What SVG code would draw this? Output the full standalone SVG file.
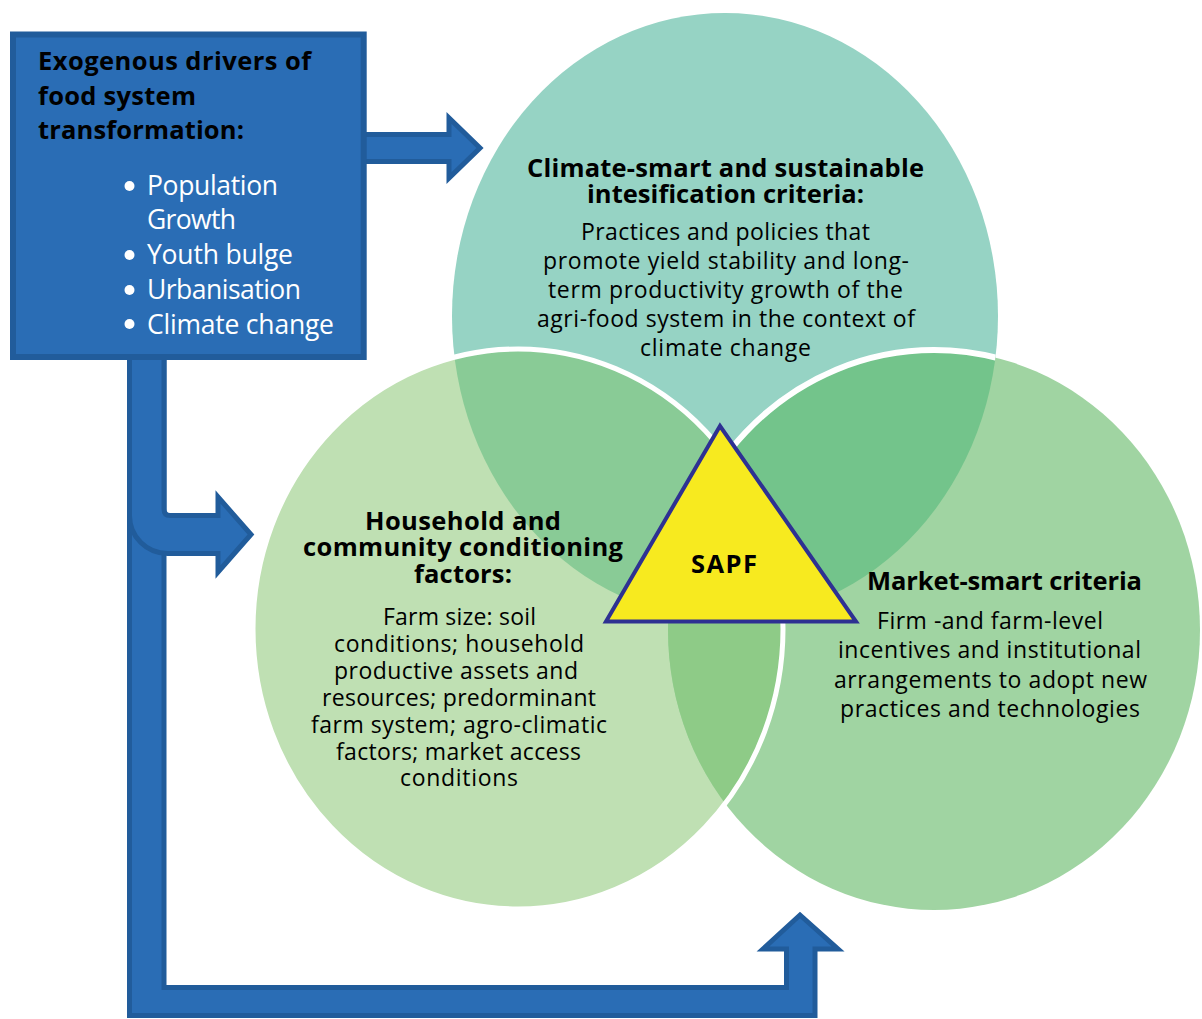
<svg xmlns="http://www.w3.org/2000/svg" width="1202" height="1019" viewBox="0 0 1202 1019">
<style>
.arrow{fill:#2a6db5;stroke:#215c9b;stroke-width:5;stroke-linejoin:miter}
.t{font-family:"Open Sans","Noto Sans",sans-serif;fill:#000}
.b{font-weight:700}
.w{fill:#ffffff}
.m{text-anchor:middle}
.h{font-size:25.5px}
.p{font-size:23px}
</style>
<defs>
<clipPath id="cTop"><ellipse cx="725" cy="316" rx="273" ry="303"/></clipPath>
<clipPath id="cLeft"><ellipse cx="518" cy="629" rx="265" ry="280"/></clipPath>
</defs>
<g id="venn">
<ellipse cx="725" cy="316" rx="273" ry="303" fill="#96d3c4"/>
<ellipse cx="518" cy="629" rx="265" ry="280" fill="#bfe0b3"/>
<ellipse cx="934" cy="630" rx="266" ry="280" fill="#a0d4a2"/>
<ellipse cx="518" cy="629" rx="265" ry="280" fill="#89cb96" clip-path="url(#cTop)"/>
<ellipse cx="934" cy="630" rx="266" ry="280" fill="#73c48b" clip-path="url(#cTop)"/>
<ellipse cx="934" cy="630" rx="266" ry="280" fill="#8ecb87" clip-path="url(#cLeft)"/>
<ellipse cx="518" cy="629" rx="265" ry="280" fill="none" stroke="#ffffff" stroke-width="5"/>
<ellipse cx="934" cy="630" rx="266" ry="280" fill="none" stroke="#ffffff" stroke-width="6" clip-path="url(#cTop)"/>
</g>
<g id="connectors">
<path class="arrow" d="M129.5,350 V1015.5 H815 V949 H838 L800,915 L763,949 H786.5 V987.5 H164 V350 Z"/>
<path class="arrow" d="M129.5,350 V516 A38,38 0 0 0 167.5,553.5 H218 V572 L251,534.5 L218,497 V515.5 H170 Q164,515.5 164,509 V350 Z"/>
<path class="arrow" d="M355,134.5 H449 V118 L480,148 L449,178 V161.5 H355 Z"/>
</g>
<g id="drivers">
<rect x="13" y="34.5" width="350.7" height="322.5" fill="#2a6db5" stroke="#215c9b" stroke-width="6"/>
<text class="t b" x="38" y="70" font-size="25.5" textLength="273">Exogenous drivers of</text>
<text class="t b" x="38" y="105" font-size="25.5" textLength="158">food system</text>
<text class="t b" x="38" y="139" font-size="25.5" textLength="206">transformation:</text>
<circle cx="129.5" cy="186" r="5" fill="#fff"/>
<circle cx="129.5" cy="255" r="5" fill="#fff"/>
<circle cx="129.5" cy="290" r="5" fill="#fff"/>
<circle cx="129.5" cy="324" r="5" fill="#fff"/>
<text class="t w" x="147" y="195" font-size="26.5" textLength="131">Population</text>
<text class="t w" x="147" y="229" font-size="26.5" textLength="89">Growth</text>
<text class="t w" x="147" y="264" font-size="26.5" textLength="146">Youth bulge</text>
<text class="t w" x="147" y="299" font-size="26.5" textLength="154">Urbanisation</text>
<text class="t w" x="147" y="334" font-size="26.5" textLength="187">Climate change</text>
</g>
<g id="climate-smart">
<text class="t b m h" x="725.5" y="177" textLength="397">Climate-smart and sustainable</text>
<text class="t b m h" x="725.5" y="203" textLength="277">intesification criteria:</text>
<text class="t m p" x="725.5" y="240" textLength="289">Practices and policies that</text>
<text class="t m p" x="726" y="269" textLength="366">promote yield stability and long-</text>
<text class="t m p" x="725.5" y="298" textLength="355">term productivity growth of the</text>
<text class="t m p" x="726" y="327" textLength="378">agri-food system in the context of</text>
<text class="t m p" x="725.5" y="356" textLength="171">climate change</text>
</g>
<g id="household">
<text class="t b m h" x="463" y="530" textLength="196">Household and</text>
<text class="t b m h" x="463" y="556" textLength="320">community conditioning</text>
<text class="t b m h" x="463" y="583" textLength="98">factors:</text>
<text class="t m p" x="459.5" y="625" textLength="153">Farm size: soil</text>
<text class="t m p" x="459" y="652" textLength="250">conditions; household</text>
<text class="t m p" x="456" y="679" textLength="244">productive assets and</text>
<text class="t m p" x="459" y="706" textLength="274">resources; predorminant</text>
<text class="t m p" x="459" y="733" textLength="296">farm system; agro-climatic</text>
<text class="t m p" x="458.5" y="760" textLength="245">factors; market access</text>
<text class="t m p" x="459" y="786" textLength="118">conditions</text>
</g>
<g id="market-smart">
<text class="t b m h" x="1004.5" y="590" textLength="275">Market-smart criteria</text>
<text class="t m p" x="990" y="629" textLength="226">Firm -and farm-level</text>
<text class="t m p" x="989.5" y="658" textLength="303">incentives and institutional</text>
<text class="t m p" x="990.5" y="688" textLength="313">arrangements to adopt new</text>
<text class="t m p" x="990" y="717" textLength="300">practices and technologies</text>
</g>
<g id="sapf">
<polygon points="720,426 606,621.5 856,621.5" fill="#f7ea1f" stroke="#2e3192" stroke-width="4" stroke-linejoin="miter"/>
<text class="t b m" x="724" y="573" font-size="25.5" textLength="66">SAPF</text>
</g>
</svg>
